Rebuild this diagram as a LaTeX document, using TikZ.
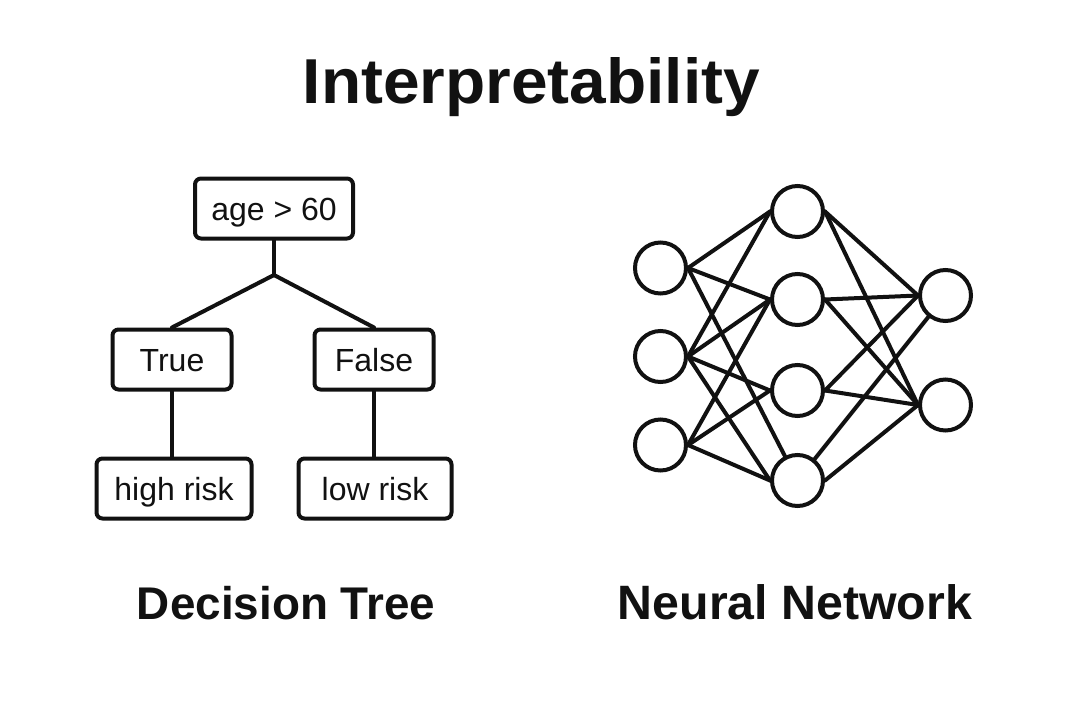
\documentclass[tikz,border=0pt]{standalone}
\usepackage{fontspec}
\setmainfont{Liberation Sans}
\usepackage{graphicx}
\definecolor{ink}{HTML}{111111}
\begin{document}
\begin{tikzpicture}[x=1pt,y=-1pt,
  line width=4pt, draw=ink,
  tbox/.style={draw=ink, line width=4pt, rounded corners=6pt, fill=white, inner sep=0pt,
     minimum height=60pt, text height=23pt, text depth=0pt,
     font=\fontsize{32}{38}\selectfont, text=ink},
  neuron/.style={draw=ink, line width=4pt, circle, fill=white, minimum size=51pt, inner sep=0pt},
  edge/.style={draw=ink, line width=4pt, line cap=round, line join=round}
]
\useasboundingbox (0,0) rectangle (1080,720);
\fill[white] (0,0) rectangle (1080,720);

% title
\node[anchor=base, text=ink, inner sep=0pt] (title) at (531.5,103)
  {\resizebox{457pt}{46pt}{\bfseries Interpretability}};

% decision tree
\coordinate (split) at (274,275);
\node[tbox, minimum width=158pt] (root) at (274,208.5) {age > 60};
\node[tbox, minimum width=119pt] (true) at (172,359.5) {True};
\node[tbox, minimum width=119pt] (false) at (374,359.5) {False};
\node[tbox, minimum width=155pt] (high) at (174,488.5) {high risk};
\node[tbox, minimum width=153pt] (low) at (375,488.5) {low risk};
\draw[edge] (root.south) -- (split);
\draw[edge] (split) -- (true.north);
\draw[edge] (split) -- (false.north);
\draw[edge] (true.south) -- (true.south |- high.north);
\draw[edge] (false.south) -- (false.south |- low.north);

\node[anchor=base, text=ink, inner sep=0pt] (dtlabel) at (286,619)
  {\resizebox{298pt}{!}{\fontsize{47}{56}\selectfont\bfseries Decision Tree}};

% neural network
\node[neuron] (i1) at (660.5,268) {};
\node[neuron] (i2) at (660.5,356.5) {};
\node[neuron] (i3) at (660.5,445) {};
\node[neuron] (h1) at (797.5,211.5) {};
\node[neuron] (h2) at (797.5,299.5) {};
\node[neuron] (h3) at (797.5,390.5) {};
\node[neuron] (h4) at (797.5,480.5) {};
\node[neuron] (o1) at (945.5,295.5) {};
\node[neuron] (o2) at (945.5,405) {};

\foreach \a/\b in {i1/h1,i1/h2,i2/h1,i2/h2,i2/h3,i2/h4,i3/h2,i3/h3,i3/h4,
                   h1/o1,h1/o2,h2/o1,h2/o2,h3/o1,h3/o2,h4/o2}
  \draw[edge] (\a.east) -- (\b.west);
\draw[edge] (i1.east) -- (h4);
\draw[edge] (h4) -- (o1);

\node[anchor=base, text=ink, inner sep=0pt] (nnlabel) at (795,619)
  {\resizebox{354pt}{!}{\fontsize{47}{56}\selectfont\bfseries Neural Network}};
\end{tikzpicture}
\end{document}
